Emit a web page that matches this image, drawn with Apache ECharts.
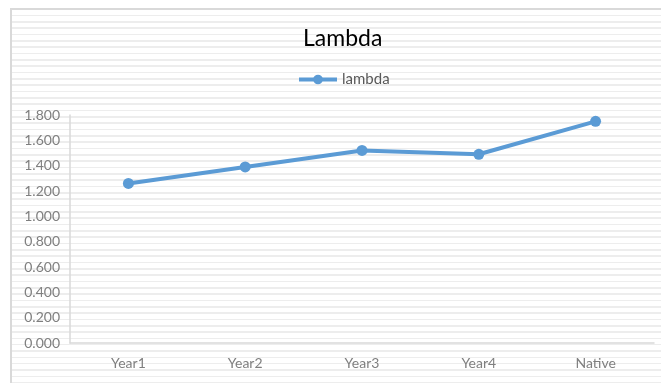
<!DOCTYPE html>
<html>
<head>
<meta charset="utf-8">
<script src="https://cdn.jsdelivr.net/npm/echarts@6/dist/echarts.min.js"></script>
<style>
  html, body { margin: 0; padding: 0; background: #ffffff; }
  #wrap { position: relative; width: 661px; height: 383px; overflow: hidden; }
  #bg {
    position: absolute; left: 10px; top: 8px; width: 660px; height: 380px;
    border-left: 2px solid #d9d9d9; border-top: 2px solid #d9d9d9;
    background: repeating-linear-gradient(to bottom, #ffffff 0px, #ffffff 4.8px, #ededed 4.8px, #ededed 6.33px);
  }
  #chart { position: absolute; left: 0; top: 0; width: 661px; height: 383px; }
</style>
</head>
<body>
<div id="wrap">
  <div id="bg"></div>
  <div id="chart"></div>
</div>
<script>
const titleText = 'Lambda';
const seriesName = 'lambda';
const categories = ['Year1', 'Year2', 'Year3', 'Year4', 'Native'];
const lambdaValues = [1.26, 1.39, 1.52, 1.49, 1.75];
const yMin = 0, yMax = 1.8, yStep = 0.2;

const FONT = 'Lato, "Open Sans", sans-serif';
const chart = echarts.init(document.getElementById('chart'), null, { renderer: 'canvas' });
chart.setOption({
  backgroundColor: 'transparent',
  animation: false,
  title: {
    text: titleText, left: 298, top: 22,
    textStyle: { fontFamily: FONT, fontSize: 23, fontWeight: 'normal', color: '#000000' }
  },
  legend: {
    data: [seriesName],
    top: 67, left: 292,
    itemWidth: 38, itemHeight: 12, itemGap: 4,
    lineStyle: { width: 4, color: '#5b9bd5' },
    textStyle: { fontFamily: FONT, fontSize: 15, color: '#595959' }
  },
  grid: { left: 70, right: 7, top: 115, bottom: 40 },
  xAxis: {
    type: 'category', data: categories, boundaryGap: true,
    axisLine: { show: true, lineStyle: { color: '#d9d9d9', width: 1.5 } },
    axisTick: { show: false },
    axisLabel: { color: '#7f7f7f', fontFamily: FONT, fontSize: 14, margin: 13 },
    splitLine: { show: false }
  },
  yAxis: {
    type: 'value', min: yMin, max: yMax, interval: yStep,
    axisLine: { show: true, lineStyle: { color: '#d9d9d9', width: 1.5 } },
    axisTick: { show: false },
    axisLabel: { color: '#7f7f7f', fontFamily: FONT, fontSize: 14, margin: 10,
      formatter: v => v.toFixed(3) },
    splitLine: { show: false }
  },
  series: [{
    name: seriesName, type: 'line', data: lambdaValues,
    symbol: 'circle', symbolSize: 11,
    lineStyle: { color: '#5b9bd5', width: 4 },
    itemStyle: { color: '#5b9bd5' }
  }]
});
</script>
</body>
</html>
